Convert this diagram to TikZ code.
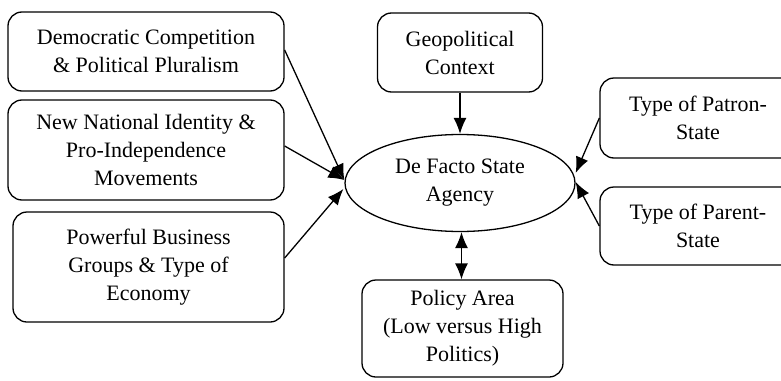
\documentclass[tikz,border=0pt]{standalone}
\usepackage{fontspec}
\setmainfont{Liberation Serif}
\usetikzlibrary{shapes.geometric,arrows.meta}
\tikzset{
  box/.style={draw, line width=1.3pt, rounded corners=14pt, align=center, inner sep=0pt,
    font=\fontsize{22}{28}\selectfont},
  oval/.style={draw, ellipse, line width=1.3pt, align=center, inner sep=0pt,
    minimum width=230pt, minimum height=97pt, font=\fontsize{22}{28}\selectfont},
  tip/.style={Latex[length=16pt,width=13pt]},
  conn/.style={line width=1.3pt, -{Latex[length=16pt,width=13pt]}},
  dconn/.style={line width=1.3pt, {Latex[length=16pt,width=13pt]}-{Latex[length=16pt,width=13pt]}}
}
\begin{document}
\begin{tikzpicture}[x=1pt,y=-1pt]
\clip (0,0) rectangle (781,380);
\node[box, minimum width=276pt, minimum height=79pt] (b1) at (146,51.5) {Democratic Competition\\\& Political Pluralism};
\node[box, minimum width=276pt, minimum height=100pt] (b2) at (146,150) {New National Identity \&\\Pro-Independence\\Movements};
\node[box, minimum width=271pt, minimum height=110pt] (b3) at (148.5,267) {Powerful Business\\Groups \& Type of\\Economy};
\node[box, minimum width=165pt, minimum height=79pt] (geo) at (460,52.5) {Geopolitical\\Context};
\node[oval] (e) at (460,183) {De Facto State\\Agency};
\node[box, minimum width=201pt, minimum height=97pt] (pol) at (462.5,328.5) {Policy Area\\(Low versus High\\Politics)};
\node[box, minimum width=196pt, minimum height=80pt] (pa) at (698,118) {Type of Patron-\\State};
\node[box, minimum width=196pt, minimum height=78pt] (pr) at (698,226) {Type of Parent-\\State};
\draw[conn] ([yshift=1.5pt]b1.east) -- ([yshift=3pt]e.west);
\draw[conn] ([yshift=4pt]b2.east) -- ([yshift=3pt]e.west);
\draw[conn] ([yshift=9pt]b3.east) -- ([yshift=-6pt,xshift=-1pt]e.west);
\draw[conn] (geo.south) -- (e.north);
\draw[dconn] ([xshift=1.5pt]e.south) -- ([xshift=-1pt]pol.north);
\draw[conn] (pa.west) -- ([yshift=10pt]e.east);
\draw[conn] (pr.west) -- ([yshift=1pt]e.east);
\end{tikzpicture}
\end{document}
